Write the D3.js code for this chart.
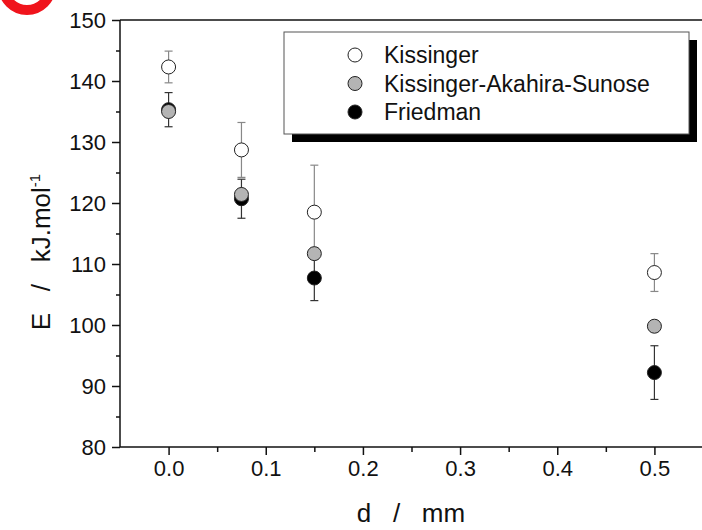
<!DOCTYPE html>
<html>
<head>
<meta charset="utf-8">
<script src="https://cdn.jsdelivr.net/npm/d3@7"></script>
<style>
  body { margin: 0; background: #fff; }
  svg text { font-family: "Liberation Sans", Arial, sans-serif; fill: #111; }
</style>
</head>
<body>
<div id="chart"></div>
<script>
// thickness d (mm)
let thickness = [0, 0.075, 0.15, 0.5];

let kissinger = [142.3, 128.7, 118.5, 108.6];
let kissingerErr = [2.6, 4.5, 7.7, 3.1];

let kas = [135.0, 121.4, 111.7, 99.8];
let kasErr = [0.9, 0.9, 0.9, 0.9];

let friedman = [135.3, 120.7, 107.7, 92.2];
let friedmanErr = [2.8, 3.2, 3.7, 4.4];

let xTicks = [0, 0.1, 0.2, 0.3, 0.4, 0.5];
let yTicks = [80, 90, 100, 110, 120, 130, 140, 150];

let seriesNames = ['Kissinger', 'Kissinger-Akahira-Sunose', 'Friedman'];

class ErrorPlot {
    constructor() {
        this.width = 702;
        this.height = 530;
        this.left = 120;
        this.right = 703;
        this.top = 20;
        this.bottom = 447;
    }

    drawPlot() {
        let svg = d3.select('#chart')
            .append('svg')
            .attr('width', this.width)
            .attr('height', this.height);

        // red ring peeking in at the top-left corner
        svg.append('circle')
            .attr('cx', 27).attr('cy', -14).attr('r', 24)
            .attr('fill', 'none')
            .attr('stroke', '#f0141c')
            .attr('stroke-width', 10);

        let x = d3.scaleLinear().domain([-0.05, 0.55]).range([this.left, this.right]);
        let y = d3.scaleLinear().domain([80, 150]).range([this.bottom, this.top]);

        // minor ticks first, then major axis
        svg.append('g')
            .attr('transform', 'translate(0,' + this.bottom + ')')
            .call(d3.axisBottom(x).tickValues([0.05, 0.15, 0.25, 0.35, 0.45]).tickSize(5).tickFormat(''))
            .call(g => g.select('.domain').remove());
        svg.append('g')
            .attr('transform', 'translate(' + this.left + ',0)')
            .call(d3.axisLeft(y).tickValues([85, 95, 105, 115, 125, 135, 145]).tickSize(4).tickFormat(''))
            .call(g => g.select('.domain').remove());

        let xAxis = svg.append('g')
            .attr('transform', 'translate(0,' + this.bottom + ')')
            .call(d3.axisBottom(x).tickValues(xTicks).tickSize(8).tickPadding(5).tickFormat(d3.format('.1f')));
        xAxis.select('.domain').attr('d', 'M' + this.left + ',0H' + this.right);

        let yAxis = svg.append('g')
            .attr('transform', 'translate(' + this.left + ',0)')
            .call(d3.axisLeft(y).tickValues(yTicks).tickSize(8).tickPadding(6).tickFormat(d3.format('d')));
        yAxis.select('.domain').attr('d', 'M0,' + this.bottom + 'V' + this.top);

        svg.selectAll('.tick line, .domain').attr('stroke', '#111').attr('stroke-width', 1.5);
        svg.selectAll('.tick text').attr('font-size', 22).attr('fill', '#111');

        // top frame line
        svg.append('line')
            .attr('x1', this.left).attr('x2', this.right)
            .attr('y1', this.top).attr('y2', this.top)
            .attr('stroke', '#111').attr('stroke-width', 1.5);

        // axis titles
        svg.append('text')
            .attr('x', 411).attr('y', 522)
            .attr('text-anchor', 'middle')
            .attr('font-size', 26)
            .attr('xml:space', 'preserve')
            .text('d   /   mm');

        let yt = svg.append('text')
            .attr('transform', 'translate(50,252) rotate(-90)')
            .attr('text-anchor', 'middle')
            .attr('font-size', 26)
            .attr('xml:space', 'preserve');
        yt.append('tspan').text('E   /   kJ.mol');
        yt.append('tspan').attr('dy', -10).attr('font-size', 15).text('-1');

        let series = [
            { vals: friedman, err: friedmanErr, fill: '#000', bar: '#333' },
            { vals: kas, err: kasErr, fill: '#b4b4b4', bar: '#555' },
            { vals: kissinger, err: kissingerErr, fill: '#fff', bar: '#888' }
        ];

        // error bars behind markers
        series.forEach(s => {
            let g = svg.append('g').attr('stroke', s.bar).attr('stroke-width', 1.2);
            thickness.forEach((d, i) => {
                let cx = x(d);
                let y1 = y(s.vals[i] + s.err[i]);
                let y2 = y(s.vals[i] - s.err[i]);
                g.append('line').attr('x1', cx).attr('x2', cx).attr('y1', y1).attr('y2', y2);
                g.append('line').attr('x1', cx - 4).attr('x2', cx + 4).attr('y1', y1).attr('y2', y1);
                g.append('line').attr('x1', cx - 4).attr('x2', cx + 4).attr('y1', y2).attr('y2', y2);
            });
        });

        series.forEach(s => {
            svg.append('g').selectAll('circle')
                .data(thickness)
                .join('circle')
                .attr('cx', d => x(d))
                .attr('cy', (d, i) => y(s.vals[i]))
                .attr('r', 7)
                .attr('fill', s.fill)
                .attr('stroke', '#222')
                .attr('stroke-width', 1);
        });

        // legend with drop shadow
        let lg = svg.append('g');
        lg.append('rect').attr('x', 292).attr('y', 40).attr('width', 405).attr('height', 102).attr('fill', '#000');
        lg.append('rect').attr('x', 284).attr('y', 32).attr('width', 405).attr('height', 102)
            .attr('fill', '#fff').attr('stroke', '#555').attr('stroke-width', 1);
        let fills = ['#fff', '#b4b4b4', '#000'];
        seriesNames.forEach((name, i) => {
            let ly = 55 + i * 28.5;
            lg.append('circle').attr('cx', 355).attr('cy', ly).attr('r', 7)
                .attr('fill', fills[i]).attr('stroke', '#222').attr('stroke-width', 1);
            lg.append('text').attr('x', 384).attr('y', ly + 8).attr('font-size', 23).text(name);
        });
    }
}

let plot = new ErrorPlot();
plot.drawPlot();
</script>
</body>
</html>
